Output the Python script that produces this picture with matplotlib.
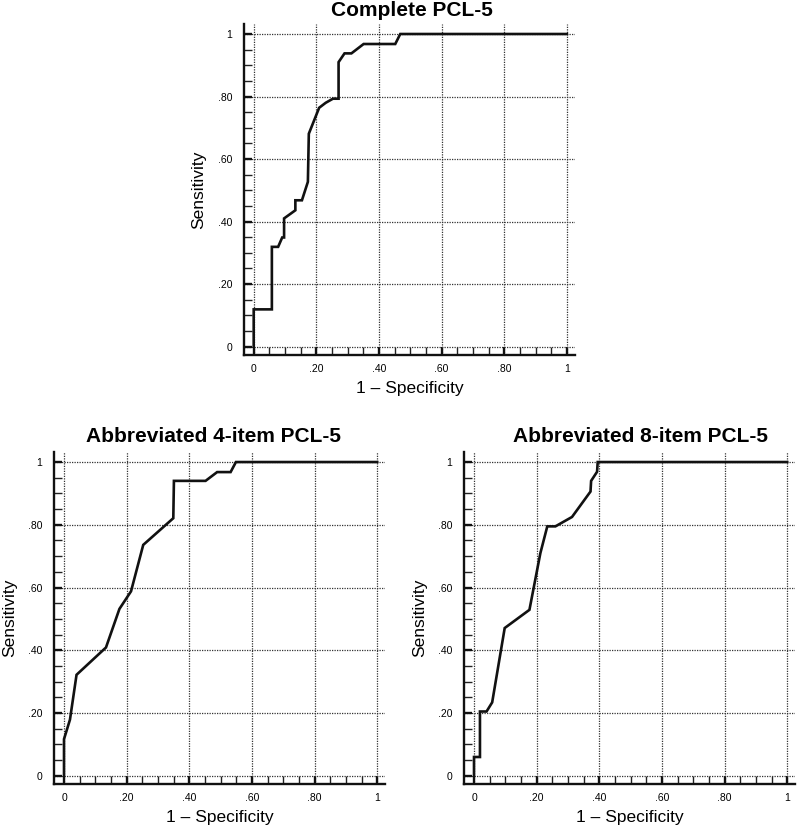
import matplotlib
matplotlib.use("Agg")
import matplotlib.pyplot as plt
from matplotlib.ticker import MultipleLocator, FixedLocator

plt.rcParams['font.family'] = ['Liberation Sans', 'DejaVu Sans']

# ---- data ----
titles = ["Complete PCL-5", "Abbreviated 4-item PCL-5", "Abbreviated 8-item PCL-5"]

complete_fpr = [0.0, 0.0, 0.058, 0.058, 0.078, 0.091, 0.097, 0.097, 0.133, 0.133, 0.154,
                0.173, 0.176, 0.209, 0.23, 0.253, 0.271, 0.271, 0.29, 0.312, 0.351,
                0.452, 0.468, 1.0]
complete_tpr = [0.0, 0.119, 0.119, 0.319, 0.319, 0.349, 0.349, 0.41, 0.436, 0.468, 0.468,
                0.527, 0.681, 0.764, 0.78, 0.793, 0.793, 0.91, 0.938, 0.938, 0.968,
                0.968, 1.0, 1.0]

item4_fpr = [0.0, 0.0, 0.019, 0.04, 0.134, 0.177, 0.214, 0.253, 0.349, 0.351, 0.452,
             0.489, 0.532, 0.549, 1.0]
item4_tpr = [0.0, 0.117, 0.179, 0.322, 0.409, 0.532, 0.588, 0.736, 0.821, 0.94, 0.94,
             0.968, 0.968, 1.0, 1.0]

item8_fpr = [0.0, 0.0, 0.019, 0.019, 0.04, 0.058, 0.098, 0.177, 0.212, 0.234, 0.26,
             0.313, 0.372, 0.374, 0.393, 0.395, 1.0]
item8_tpr = [0.0, 0.06, 0.06, 0.205, 0.205, 0.234, 0.471, 0.529, 0.71, 0.795, 0.795,
             0.825, 0.906, 0.94, 0.969, 1.0, 1.0]

tick_values = [0, 0.2, 0.4, 0.6, 0.8, 1.0]
tick_labels = ["0", ".20", ".40", ".60", ".80", "1"]

series = [(complete_fpr, complete_tpr), (item4_fpr, item4_tpr), (item8_fpr, item8_tpr)]

# ---- layout ----
fig = plt.figure(figsize=(8.0, 8.3), dpi=100)
W, H = 800, 830
boxes = [(244, 24, 331, 331), (54.3, 452, 331, 332.3), (464.3, 452, 331, 332.3)]
title_x = [0.507, 0.482, 0.533]
title_pad = [13, 16, 16]

for i, ((l, t, w, h), (fx, ty)) in enumerate(zip(boxes, series)):
    ax = fig.add_axes([l / W, 1 - (t + h) / H, w / W, h / H])
    ax.plot(fx, ty, color="#111111", lw=1.9, solid_joinstyle="miter", zorder=3, clip_on=False)
    ax.set_xlim(-0.031, 1.026)
    ax.set_ylim(-0.027, 1.032)
    for s in ["top", "right"]:
        ax.spines[s].set_visible(False)
    for s in ["left", "bottom"]:
        ax.spines[s].set_linewidth(1.7)
        ax.spines[s].set_color("#111111")
    ax.xaxis.set_major_locator(FixedLocator(tick_values))
    ax.yaxis.set_major_locator(FixedLocator(tick_values))
    ax.set_xticklabels(tick_labels)
    ax.set_yticklabels(tick_labels)
    ax.xaxis.set_minor_locator(MultipleLocator(0.05))
    ax.yaxis.set_minor_locator(MultipleLocator(0.05))
    ax.tick_params(which="minor", direction="in", length=5.5, width=1.0, color="#222222")
    ax.tick_params(which="major", direction="in", length=5.5, width=1.7, color="#111111")
    ax.tick_params(axis="y", which="major", labelsize=7.5, pad=8.5)
    ax.tick_params(axis="x", which="major", labelsize=7.5, pad=6.5)
    ax.grid(True, which="major", linestyle=(0, (1, 1)), color="#333333", lw=0.9)
    ax.set_axisbelow(True)
    ax.set_ylabel("Sensitivity", fontsize=12.5, va="center")
    ax.yaxis.set_label_coords(-45 / w, 0.5)
    ax.set_xlabel("1 \u2013 Specificity", fontsize=12.5, va="center")
    ax.xaxis.set_label_coords(0.5, -33 / h)
    ax.text(title_x[i], 1 + title_pad[i] / h, titles[i], transform=ax.transAxes,
            ha="center", va="center", fontsize=15, fontweight="bold")

fig.savefig("out.png", dpi=100)
